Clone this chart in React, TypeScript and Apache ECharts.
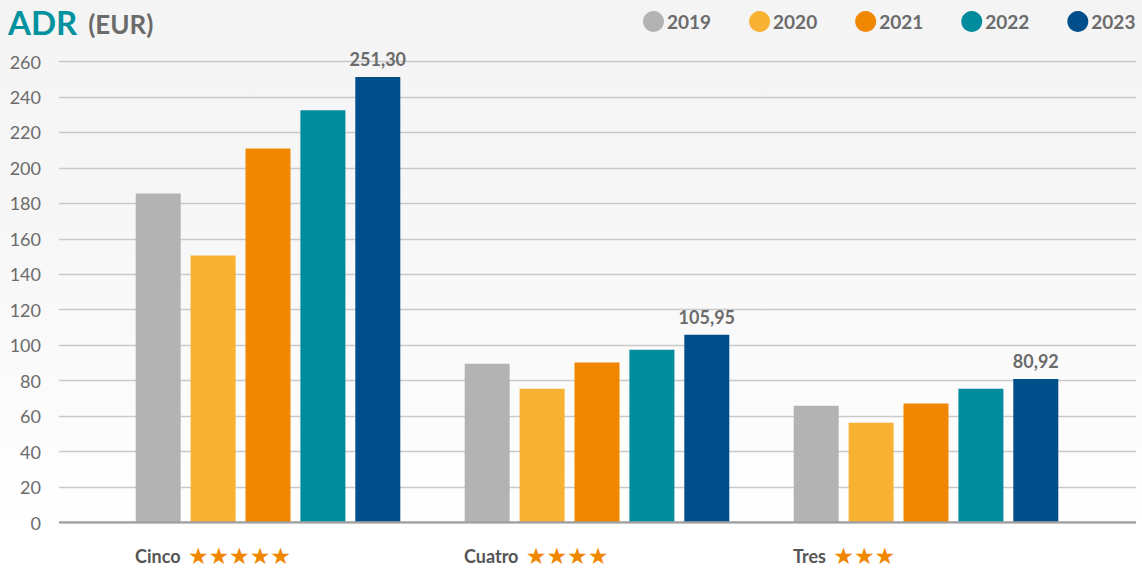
import React, { useEffect, useRef } from "react";
import * as echarts from "echarts";

const categories = ["Cinco", "Cuatro", "Tres"];
const starCounts = [5, 4, 3];
const years = ["2019", "2020", "2021", "2022", "2023"];
const colors = ["#b3b3b3", "#f8b133", "#f08700", "#008c9c", "#004f8a"];
const v2019 = [185.6, 89.5, 65.8];
const v2020 = [150.6, 75.4, 56.2];
const v2021 = [211.0, 90.3, 67.1];
const v2022 = [232.5, 97.5, 75.4];
const v2023 = [251.3, 105.95, 80.92];
const seriesValues = [v2019, v2020, v2021, v2022, v2023];
const yTicks = [0, 20, 40, 60, 80, 100, 120, 140, 160, 180, 200, 220, 240, 260];

const FONT = "Lato, 'Open Sans', sans-serif";
const GRAY = "#6b6b6b";

export default function App() {
  const ref = useRef<HTMLDivElement>(null);
  useEffect(() => {
    if (!ref.current) return;
    const chart = echarts.init(ref.current, null, { renderer: "svg" });
    const yMin = yTicks[0];
    const yMax = yTicks[yTicks.length - 1];
    const interval = yTicks[1] - yTicks[0];
    const option: any = {
      animation: false,
      backgroundColor: "transparent",
      textStyle: { fontFamily: FONT },
      title: {
        left: 3,
        top: 0,
        text: "{a|ADR}{b|(EUR)}",
        textStyle: {
          rich: {
            a: { fontFamily: FONT, fontSize: 33, fontWeight: "bold", color: "#00929f", padding: [0, 11, 0, 0] },
            b: { fontFamily: FONT, fontSize: 26, fontWeight: "bold", color: GRAY, padding: [4, 0, 0, 0] },
          },
        },
      },
      legend: {
        top: 6,
        left: 638,
        icon: "circle",
        itemWidth: 21,
        itemHeight: 21,
        itemGap: 38,
        data: years,
        textStyle: { fontFamily: FONT, fontSize: 19, fontWeight: "bold", color: GRAY, padding: [0, 0, 0, -2] },
      },
      grid: [
        { left: 59, right: 6, top: 61.5, bottom: 46.5 },
        { left: 103.5, right: 51.5, top: 61.5, bottom: 46.5 },
      ],
      xAxis: [
        {
          type: "value",
          gridIndex: 0,
          min: 0,
          max: 1,
          axisLine: { show: false },
          axisTick: { show: false },
          axisLabel: { show: false },
          splitLine: { show: false },
        },
        {
          type: "category",
          gridIndex: 1,
          data: categories,
          axisLine: { show: false },
          axisTick: { show: false },
          axisLabel: {
            margin: 22,
            width: 266,
            align: "center",
            formatter: (val: string, idx: number) =>
              `{n|${val} }{s|${"★".repeat(starCounts[idx])}}`,
            rich: {
              n: { fontFamily: FONT, fontSize: 18, fontWeight: "bold", color: "#555555", align: "left", padding: [0, 3, 0, 0] },
              s: { fontFamily: "'DejaVu Sans', sans-serif", fontSize: 23, color: "#f08700", align: "left" },
            },
          },
        },
      ],
      yAxis: [
        {
          type: "value",
          gridIndex: 0,
          min: yMin,
          max: yMax,
          interval,
          axisLine: { show: false },
          axisTick: { show: false },
          axisLabel: { margin: 18, fontFamily: FONT, fontSize: 18, color: GRAY },
          splitLine: { show: true, lineStyle: { color: "#c9c9c9", width: 1.3 } },
        },
        {
          type: "value",
          gridIndex: 1,
          min: yMin,
          max: yMax,
          interval,
          show: false,
          splitLine: { show: false },
        },
      ],
      series: [
        {
          type: "line",
          xAxisIndex: 0,
          yAxisIndex: 0,
          data: [[0, 0], [1, 0]],
          symbol: "none",
          lineStyle: { color: "#a0a0a0", width: 2.5 },
          silent: true,
          z: 3,
          legendHoverLink: false,
        },
        ...years.map((y, i) => ({
          name: y,
          type: "bar",
          xAxisIndex: 1,
          yAxisIndex: 1,
          data: seriesValues[i],
          barWidth: 45,
          barGap: "22%",
          itemStyle: { color: colors[i] },
          z: 2,
          label:
            i === years.length - 1
              ? {
                  show: true,
                  position: "top",
                  distance: 9,
                  fontFamily: FONT,
                  fontSize: 18,
                  fontWeight: "bold",
                  color: GRAY,
                  formatter: (p: any) => p.value.toFixed(2).replace(".", ","),
                }
              : { show: false },
        })),
      ],
    };
    chart.setOption(option);
    return () => chart.dispose();
  }, []);
  return (
    <div
      style={{
        position: "fixed",
        left: 0,
        top: 0,
        width: 1142,
        height: 569,
        background: "linear-gradient(#f4f4f4 0%, #f7f7f7 40%, #ffffff 95%)",
      }}
    >
      <div ref={ref} style={{ width: 1142, height: 569 }} />
    </div>
  );
}
